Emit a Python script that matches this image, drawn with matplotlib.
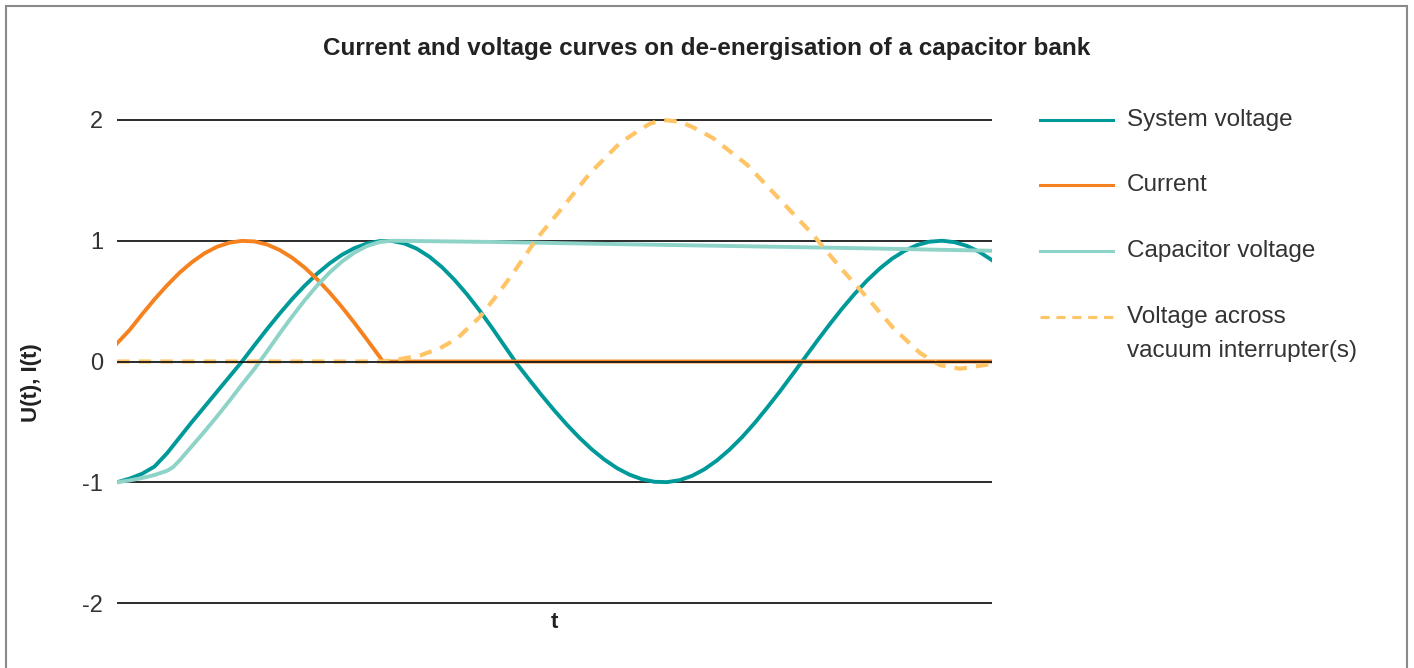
import numpy as np
import matplotlib
matplotlib.use('Agg')
import matplotlib.pyplot as plt
from matplotlib.lines import Line2D
from matplotlib.patches import Rectangle

plt.rcParams['font.family'] = ['Liberation Sans', 'DejaVu Sans']
plt.rcParams['axes.unicode_minus'] = False

# time samples (arbitrary units)
t_grid = np.arange(0, 876, 12.5)

# system voltage
system_v = [-1.00, -0.97, -0.93, -0.87, -0.76, -0.63, -0.50, -0.375, -0.25, -0.125,
            0.0, 0.135, 0.268, 0.395, 0.516, 0.626, 0.726, 0.812, 0.884, 0.939,
            0.977, 0.997, 0.998, 0.977, 0.933, 0.867, 0.781, 0.676, 0.556, 0.423,
            0.279, 0.129, -0.021, -0.153, -0.283, -0.407, -0.524, -0.632, -0.729, -0.813,
            -0.883, -0.937, -0.975, -0.996, -0.999, -0.983, -0.947, -0.892, -0.819, -0.730,
            -0.627, -0.511, -0.384, -0.252, -0.113, 0.028, 0.169, 0.306, 0.437, 0.559,
            0.670, 0.768, 0.851, 0.916, 0.964, 0.992, 1.000, 0.988, 0.957, 0.907, 0.839]

# current, interrupted at current zero
current_t = list(t_grid[:22]) + [266, 875]
current = [0.15, 0.26, 0.39, 0.515, 0.63, 0.735, 0.823, 0.896, 0.95, 0.984,
           0.999, 0.994, 0.969, 0.924, 0.860, 0.779, 0.682, 0.572, 0.450, 0.319,
           0.181, 0.040, 0.0, 0.0]

# capacitor voltage (stays charged after interruption)
cap_t = [0, 12.5, 25, 37.5, 50, 56, 62.5, 75, 87.5, 100, 112.5, 125, 137.5, 150, 162.5,
         175, 187.5, 200, 212.5, 225, 237.5, 250, 262.5, 275, 375, 500, 625, 750, 875]
cap_v = [-1.0, -0.985, -0.965, -0.94, -0.905, -0.875, -0.82, -0.70, -0.58, -0.455,
         -0.325, -0.19, -0.06, 0.083, 0.23, 0.371, 0.505, 0.628, 0.736, 0.828,
         0.902, 0.956, 0.989, 1.0, 0.99, 0.972, 0.955, 0.937, 0.917]

# voltage across vacuum interrupter(s)
vi_t = [0, 266, 283, 303, 323, 340, 363, 380, 396, 420, 446, 473, 503, 523, 533,
        546, 563, 576, 596, 630, 663, 696, 723, 750, 776, 803, 823, 843, 875]
vi_v = [0, 0, 0.02, 0.05, 0.11, 0.19, 0.37, 0.55, 0.73, 1.02, 1.28, 1.56, 1.81, 1.92, 1.97,
        2.0, 1.985, 1.94, 1.85, 1.63, 1.34, 1.05, 0.78, 0.53, 0.28, 0.07, -0.03, -0.06, -0.02]

y_ticks = [-2, -1, 0, 1, 2]
y_labels = ['-2', '-1', '0', '1', '2']

c_sys = '#00999a'
c_cur = '#f5821f'
c_cap = '#8ed3c7'
c_vi = '#ffc466'
lw = 2.8

fig = plt.figure(figsize=(14.14, 6.68), dpi=100)
ax = fig.add_axes([117 / 1414, 1 - 615.1 / 668, 875 / 1414, 507.2 / 668])

for y in y_ticks:
    ax.axhline(y, color='#1a1a1a', lw=1.3, zorder=1 if y != 0 else 6)

ax.plot(t_grid, system_v, color=c_sys, lw=lw, zorder=2, solid_joinstyle='round')
ax.plot(current_t, current, color=c_cur, lw=lw, zorder=3, solid_joinstyle='round')
ax.plot(cap_t, cap_v, color=c_cap, lw=lw, zorder=4, solid_joinstyle='round')
ax.plot(vi_t, vi_v, color=c_vi, lw=3.0, ls=(0, (3.0, 2.2)), zorder=5, clip_on=False)

ax.set_xlim(0, 875)
ax.set_ylim(-2.1, 2.1)
ax.set_yticks(y_ticks)
ax.set_yticklabels(y_labels)
ax.set_xticks([])
ax.tick_params(axis='y', length=0, pad=10, labelsize=17, labelcolor='#333333')
for s in ax.spines.values():
    s.set_visible(False)

ax.set_xlabel('t', fontsize=16, fontweight='bold', color='#222222', labelpad=-2)
fig.text(32 / 1414, 1 - 383 / 668, 'U(t), I(t)', rotation=90, ha='center', va='center',
         fontsize=16, fontweight='bold', color='#222222')

fig.text(0.5, 1 - 48 / 668, 'Current and voltage curves on de-energisation of a capacitor bank',
         ha='center', va='center', fontsize=17.5, fontweight='bold', color='#222222')

# legend drawn by hand to keep the first-line alignment of the two-line label
legend_items = [('System voltage', c_sys, '-'), ('Current', c_cur, '-'),
                ('Capacitor voltage', c_cap, '-'), ('Voltage across', c_vi, '--')]
rows = [120, 185, 251, 317]
for (label, col, ls), ry in zip(legend_items, rows):
    yy = 1 - ry / 668
    fig.add_artist(Line2D([1040 / 1414, 1113 / 1414], [yy, yy], transform=fig.transFigure,
                          color=col, lw=2.2, ls=ls if ls == '-' else (0, (3, 2.2))))
    fig.text(1127 / 1414, yy, label, ha='left', va='center', fontsize=17.5, color='#333333')
fig.text(1127 / 1414, 1 - 351 / 668, 'vacuum interrupter(s)', ha='left', va='center',
         fontsize=17.5, color='#333333')

fig.add_artist(Rectangle((6 / 1414, -0.1), 1401 / 1414, 1.1 - 6 / 668, transform=fig.transFigure,
                         fill=False, edgecolor='#8a8a8a', lw=1.5))

fig.savefig('out.png', dpi=100)
